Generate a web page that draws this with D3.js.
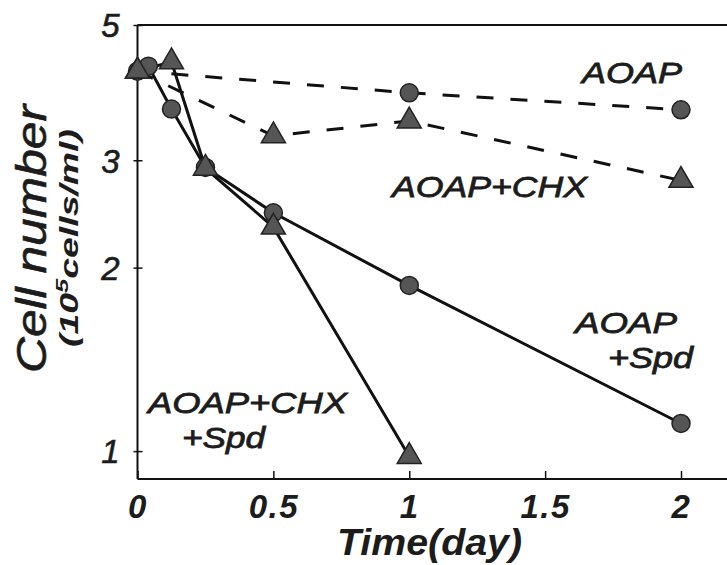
<!DOCTYPE html>
<html>
<head>
<meta charset="utf-8">
<script src="https://cdn.jsdelivr.net/npm/d3@7"></script>
<style>
  html, body { margin: 0; padding: 0; background: #fff; }
  svg { display: block; }
  text { font-family: "Liberation Sans", Arial, Helvetica, sans-serif; font-style: italic; fill: #1c1c1c; }
</style>
</head>
<body>
<svg id="chart" width="727" height="565"></svg>
<script>
// Cell counts (10^5 cells/ml) over time (days) for four treatments
const aoapTime = [0, 1, 2];
const aoapCells = [4.2, 3.87, 3.63];

const aoapChxTime = [0, 0.5, 1, 2];
const aoapChxCells = [4.2, 3.29, 3.48, 2.78];

const aoapSpdTime = [0.04, 0.125, 0.25, 0.5, 1, 2];
const aoapSpdCells = [4.28, 3.64, 2.92, 2.46, 1.87, 1.11];

const aoapChxSpdTime = [0, 0.125, 0.25, 0.5, 1];
const aoapChxSpdCells = [4.2, 4.35, 2.91, 2.33, 0.98];

const xTicks = [0, 0.5, 1, 1.5, 2];
const xTickLabels = ["0", "0.5", "1", "1.5", "2"];
const yTicks = [1, 2, 3, 5];
const yTickLabels = ["1", "2", "3", "5"];

const svg = d3.select("#chart");

const x = d3.scaleLinear().domain([0, 2]).range([137.5, 681]);
const y = d3.scaleLog().domain([0.9, 5]).range([479, 25]);

const zip = (t, v) => t.map((d, i) => ({ t: d, v: v[i] }));

const series = [
  { name: "AOAP", pts: zip(aoapTime, aoapCells), shape: "circle", dashed: true },
  { name: "AOAP+CHX", pts: zip(aoapChxTime, aoapChxCells), shape: "triangle", dashed: true },
  { name: "AOAP+Spd", pts: zip(aoapSpdTime, aoapSpdCells), shape: "circle", dashed: false },
  { name: "AOAP+CHX+Spd", pts: zip(aoapChxSpdTime, aoapChxSpdCells), shape: "triangle", dashed: false }
];

// Top rule running to the right edge
svg.append("line")
  .attr("x1", x(0)).attr("x2", 727).attr("y1", y(5)).attr("y2", y(5))
  .attr("stroke", "#111").attr("stroke-width", 2);

// Y axis (log scale) with ticks crossing the line
const yAxis = d3.axisLeft(y)
  .tickValues(yTicks)
  .tickFormat((d, i) => yTickLabels[i])
  .tickSizeInner(4)
  .tickSizeOuter(0)
  .tickPadding(14);
const gy = svg.append("g").attr("transform", `translate(${x(0)},0)`).call(yAxis);
gy.select(".domain").attr("d", `M0,${y(5)}V${y.range()[0]}`).attr("stroke", "#111").attr("stroke-width", 2);
gy.selectAll(".tick line").attr("x1", -4).attr("x2", 5).attr("stroke", "#111").attr("stroke-width", 1.5);
gy.selectAll(".tick text")
  .attr("font-size", 33).attr("dy", "0.36em")
  .style("font-family", '"Liberation Sans", Arial, sans-serif')
  .style("font-style", "italic").style("font-weight", "normal")
  .attr("stroke", "#1c1c1c").attr("stroke-width", 0.6)
  .attr("fill", "#1c1c1c");

// X axis with inward ticks
const xAxis = d3.axisBottom(x)
  .tickValues(xTicks)
  .tickFormat((d, i) => xTickLabels[i])
  .tickSizeInner(-8)
  .tickSizeOuter(0)
  .tickPadding(8);
const gx = svg.append("g").attr("transform", `translate(0,${y.range()[0]})`).call(xAxis);
gx.select(".domain").attr("d", `M${x(0)},0H727`).attr("stroke", "#111").attr("stroke-width", 2);
gx.selectAll(".tick line").attr("stroke", "#111").attr("stroke-width", 1.5);
gx.selectAll(".tick text")
  .attr("font-size", 33).attr("y", 8).attr("dy", "0.95em")
  .style("font-family", '"Liberation Sans", Arial, sans-serif')
  .style("font-style", "italic").style("font-weight", "bold")
  .attr("letter-spacing", 1.5)
  .attr("fill", "#1c1c1c");

// Lines
const line = d3.line().x(d => x(d.t)).y(d => y(d.v));
svg.append("g").selectAll("path")
  .data(series)
  .join("path")
  .attr("d", d => line(d.pts))
  .attr("fill", "none")
  .attr("stroke", "#111")
  .attr("stroke-width", 3)
  .attr("stroke-dasharray", d => d.dashed ? "17,17" : null);

// Markers
const triangle = d3.symbol().type(d3.symbolTriangle).size(250);
series.forEach(s => {
  const g = svg.append("g");
  if (s.shape === "circle") {
    g.selectAll("circle").data(s.pts).join("circle")
      .attr("cx", d => x(d.t)).attr("cy", d => y(d.v)).attr("r", 9)
      .attr("fill", "#555").attr("stroke", "#222").attr("stroke-width", 1.5);
  } else {
    g.selectAll("path").data(s.pts).join("path")
      .attr("d", triangle)
      .attr("transform", d => `translate(${x(d.t)},${y(d.v)})`)
      .attr("fill", "#555").attr("stroke", "#222").attr("stroke-width", 1.5);
  }
});

// Series labels (wide oblique lettering)
const labelTexts = [
  { t: "AOAP", x: 582, y: 83, w: 100 },
  { t: "AOAP+CHX", x: 392, y: 197, w: 195 },
  { t: "AOAP", x: 575, y: 333, w: 102 },
  { t: "+Spd", x: 608, y: 368, w: 85 },
  { t: "AOAP+CHX", x: 148, y: 413, w: 199 },
  { t: "+Spd", x: 182, y: 448, w: 83 }
];
svg.append("g").selectAll("text")
  .data(labelTexts)
  .join("text")
  .attr("x", d => d.x)
  .attr("y", d => d.y)
  .attr("font-size", 30)
  .attr("textLength", d => d.w)
  .attr("lengthAdjust", "spacingAndGlyphs")
  .attr("stroke", "#1c1c1c").attr("stroke-width", 0.8)
  .text(d => d.t);

// Axis titles
svg.append("text")
  .attr("x", 337).attr("y", 555)
  .attr("font-size", 36)
  .attr("font-weight", "bold")
  .attr("textLength", 185)
  .attr("lengthAdjust", "spacingAndGlyphs")
  .text("Time(day)");

const yTitle = svg.append("g").attr("transform", "translate(46,373) rotate(-90)");
yTitle.append("text")
  .attr("font-size", 42)
  .attr("textLength", 268)
  .attr("lengthAdjust", "spacingAndGlyphs")
  .attr("stroke", "#1c1c1c").attr("stroke-width", 0.6)
  .text("Cell number");
const sub = yTitle.append("text")
  .attr("x", 26)
  .attr("y", 32)
  .attr("font-size", 25)
  .attr("font-weight", "bold")
  .attr("textLength", 218)
  .attr("lengthAdjust", "spacingAndGlyphs");
sub.append("tspan").text("(10");
sub.append("tspan").attr("dy", -10).attr("font-size", 17).text("5");
sub.append("tspan").attr("dy", 10).text("cells/ml)");
</script>
</body>
</html>
